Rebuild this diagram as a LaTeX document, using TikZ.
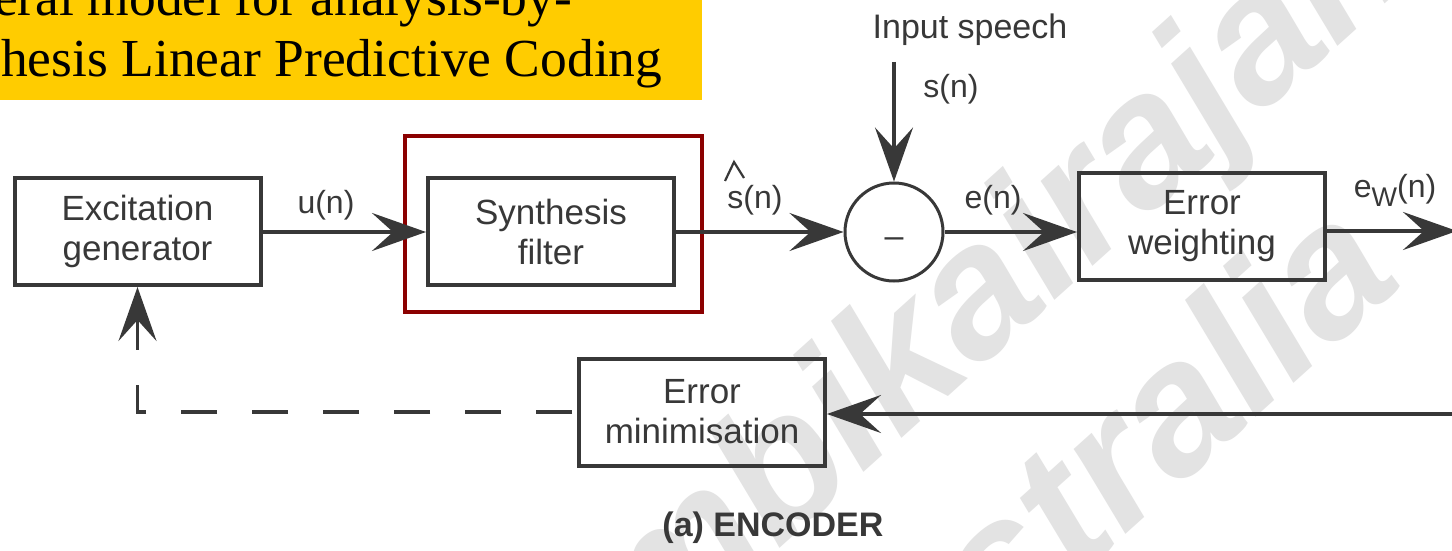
\documentclass[tikz,border=0pt]{standalone}
\usepackage{fontspec}
\setmainfont{Liberation Sans}
\newfontfamily\titlefont{Liberation Serif}
\usetikzlibrary{arrows.meta,calc}
\definecolor{ink}{HTML}{383838}
\definecolor{banner}{HTML}{FFCC00}
\definecolor{hilite}{HTML}{8B0000}
\definecolor{wmark}{HTML}{E3E3E3}
\tikzset{
  blk/.style={draw=ink, line width=4pt, text=ink, align=center, inner sep=0pt,
    minimum width=246pt, minimum height=107pt,
    font=\fontsize{35}{40}\selectfont},
  sig/.style={text=ink, inner sep=0pt, font=\fontsize{32}{36}\selectfont},
  flow/.style={draw=ink, line width=3.5pt,
    -{Stealth[length=54pt,width=38pt,inset=21pt]}},
  wm/.style={text=wmark, inner sep=0pt, rotate=42, anchor=base west,
    font=\bfseries\itshape\fontsize{185}{185}\selectfont},
  ttl/.style={inner sep=0pt, anchor=base west,
    font=\titlefont\fontsize{53.5}{60}\selectfont}
}
\begin{document}
\begin{tikzpicture}[x=1pt,y=-1pt]
\useasboundingbox (0,0) rectangle (1452,551);
\clip (0,0) rectangle (1452,551);
\fill[white] (0,0) rectangle (1452,551);

% background watermark
\node[wm] (wmA) at (556,750) {Ambikairajah};
\node[wm] (wmB) at (818,812) {Australia};

% title banner
\fill[banner] (0,0) rectangle (702,100);
\node[ttl] (t1) at (-6,16) {eral model for analysis-by-};
\node[ttl] (t2) at (1,77) {hesis Linear Predictive Coding};

% blocks
\node[blk] (exc) at (137.5,231.5) {Excitation\\generator};
\node[blk] (syn) at (551,231.5) {Synthesis\\filter};
\node[draw=hilite, line width=4.5pt, minimum width=297pt, minimum height=176pt, inner sep=0pt] (hl) at (553.5,224) {};
\node[draw=ink, line width=3pt, circle, minimum size=98pt, inner sep=0pt,
      text=ink, font=\fontsize{34}{36}\selectfont] (sum) at (894,232) {\smash{\raisebox{-15pt}{–}}};
\node[blk] (ewt) at (1202,226) {Error\\weighting};
\node[blk] (emin) at (702,412) {Error\\minimisation};

% signal labels
\node[sig] (un) at (326,205) {u(n)};
\node[sig] (shat) at (755,200) {s(n)};
\draw[ink, line width=2.2pt] ($(shat)+(-30,-19)$) -- ($(shat)+(-21,-38)$) -- ($(shat)+(-11,-22)$);
\node[sig, font=\fontsize{34}{36}\selectfont] (inp) at (970,30) {Input speech};
\node[sig] (sn) at (951,89) {s(n)};
\node[sig] (en) at (993,200) {e(n)};
\node[sig] (ewn) at (1395,190) {e\raisebox{-9pt}{\fontsize{27}{30}\selectfont W}(n)};
\node[text=ink, inner sep=0pt, font=\bfseries\fontsize{34}{36}\selectfont] (cap) at (773,528) {(a) ENCODER};

% connectors
\coordinate (src) at (894,62);
\coordinate (out) at (1457,231);
\coordinate (fb) at (1460,414);
\draw[flow] (exc.east |- 0,232) -- (syn.west |- 0,232);
\draw[flow] (syn.east |- 0,232) -- (sum.west);
\draw[flow] (src) -- (sum.north);
\draw[flow] (sum.east) -- (sum.east -| ewt.west);
\draw[flow] (ewt.east |- out) -- (out);
\draw[flow] (fb) -- (fb -| emin.east);
\draw[flow, dash pattern=on 36pt off 35pt, dash phase=66pt] (emin.west) -| (exc.south);
\end{tikzpicture}
\end{document}
